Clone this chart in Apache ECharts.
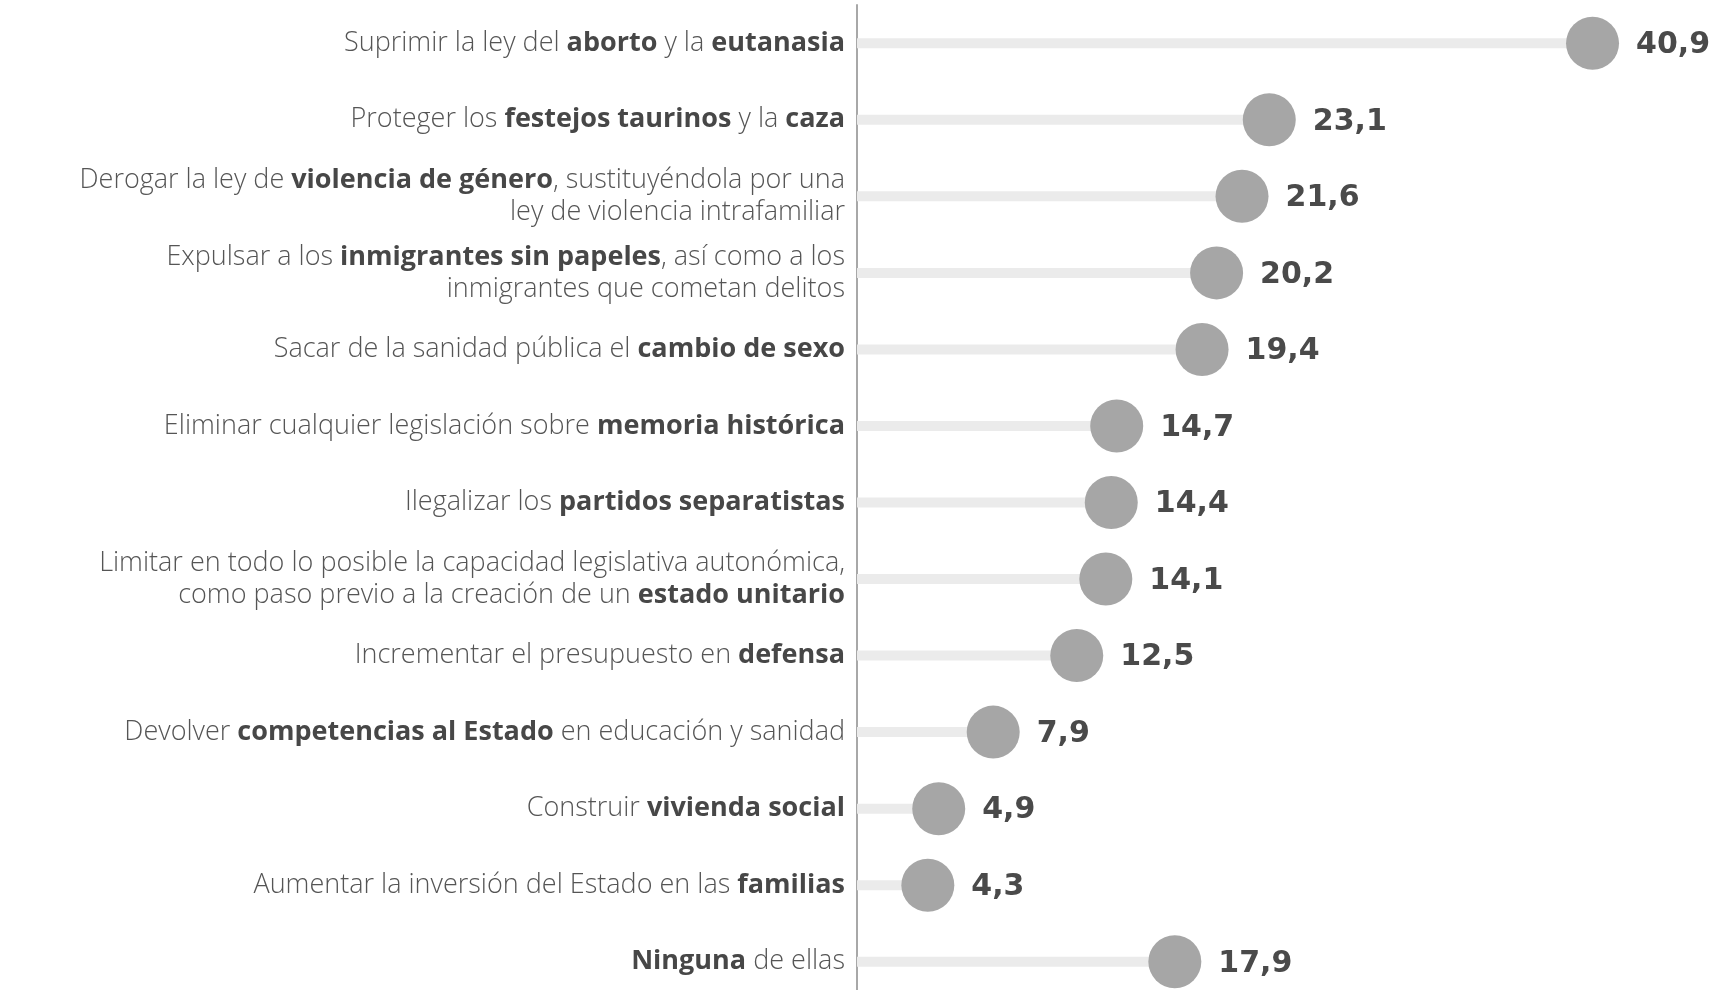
<!DOCTYPE html>
<html>
<head>
    <meta charset="utf-8">
    <title>Propuestas</title>
    <script src="https://cdn.jsdelivr.net/npm/echarts@6/dist/echarts.min.js"></script>
    <style>
        html, body { margin: 0; padding: 0; background: #fff; }
    </style>
</head>
<body>
    <div id="main" style="width: 1711px;height:990px;"></div>
    <script type="text/javascript">
    // categories, {b|...} marks the bold words
    var categories = [
        'Suprimir la ley del {b|aborto} y la {b|eutanasia}',
        'Proteger los {b|festejos taurinos} y la {b|caza}',
        'Derogar la ley de {b|violencia de género}, sustituyéndola por una\nley de violencia intrafamiliar',
        'Expulsar a los {b|inmigrantes sin papeles}, así como a los\ninmigrantes que cometan delitos',
        'Sacar de la sanidad pública el {b|cambio de sexo}',
        'Eliminar cualquier legislación sobre {b|memoria histórica}',
        'Ilegalizar los {b|partidos separatistas}',
        'Limitar en todo lo posible la capacidad legislativa autonómica,\ncomo paso previo a la creación de un {b|estado unitario}',
        'Incrementar el presupuesto en {b|defensa}',
        'Devolver {b|competencias al Estado} en educación y sanidad',
        'Construir {b|vivienda social}',
        'Aumentar la inversión del Estado en las {b|familias}',
        '{b|Ninguna} de ellas'
    ];
    var values = [40.9, 23.1, 21.6, 20.2, 19.4, 14.7, 14.4, 14.1, 12.5, 7.9, 4.9, 4.3, 17.9];

    var font = '"Open Sans", sans-serif';
    var myChart = echarts.init(document.getElementById('main'));

    var option = {
        animation: false,
        grid: {
            left: 857,
            right: 44,
            top: 5,
            bottom: -10,
            outerBoundsMode: 'none',
            containLabel: false
        },
        xAxis: {
            type: 'value',
            min: 0.4,
            max: 45,
            show: false
        },
        yAxis: {
            type: 'category',
            data: categories,
            inverse: true,
            axisTick: { show: false },
            axisLine: { show: true, lineStyle: { color: '#a8a8a8', width: 2 } },
            splitLine: { show: false },
            axisLabel: {
                margin: 12,
                fontFamily: font,
                fontSize: 27,
                fontWeight: 300,
                color: '#555',
                lineHeight: 32,
                align: 'right',
                formatter: function (v) { return v; },
                rich: {
                    b: { fontFamily: font, fontSize: 27, fontWeight: 'bold', color: '#474747', lineHeight: 32 }
                }
            }
        },
        series: [
            {
                type: 'bar',
                data: values,
                barWidth: 10,
                itemStyle: { color: '#ebebeb' },
                silent: true
            },
            {
                type: 'scatter',
                data: values.map(function (v, i) { return [v, i]; }),
                symbolSize: 53,
                itemStyle: { color: '#a6a6a6', opacity: 1 },
                label: {
                    show: true,
                    position: 'right',
                    distance: 17,
                    offset: [0, 2],
                    fontFamily: '"DejaVu Sans", sans-serif',
                    fontSize: 30,
                    fontWeight: 'bold',
                    color: '#4a4a4a',
                    formatter: function (p) {
                        return p.value[0].toFixed(1).replace('.', ',');
                    }
                }
            }
        ]
    };
    myChart.setOption(option);
</script>
</body>
</html>
